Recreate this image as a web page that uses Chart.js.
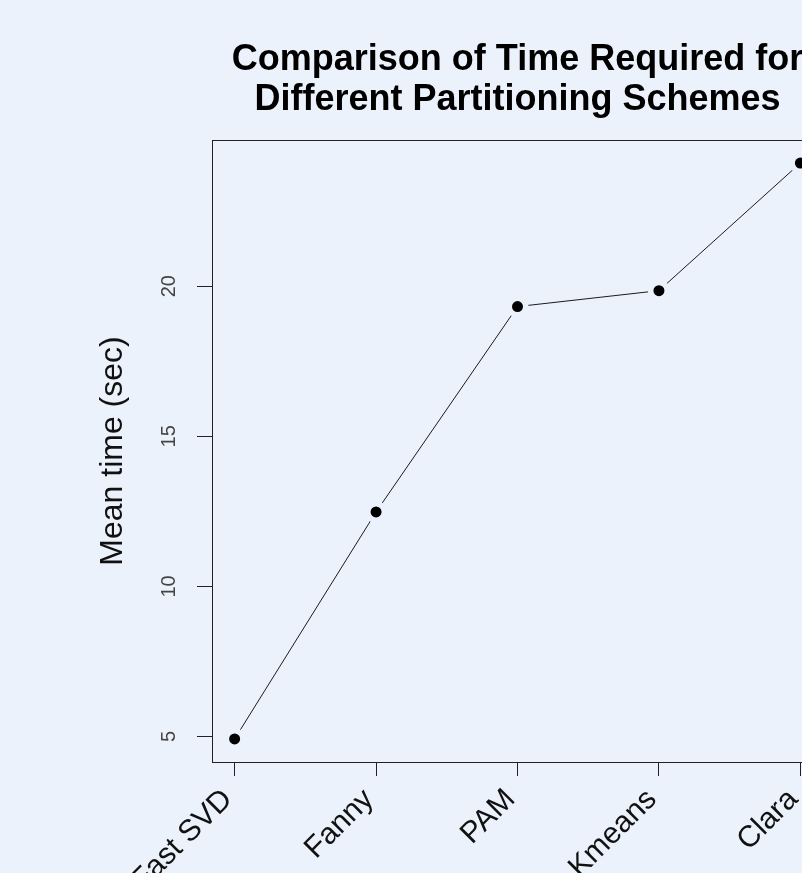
<!DOCTYPE html>
<html>
<head>
<meta charset="utf-8">
<script src="https://cdn.jsdelivr.net/npm/chart.js@4/dist/chart.umd.min.js"></script>
<style>
  html, body { margin: 0; padding: 0; background: #ecf2fc; overflow: hidden; }
  #wrap { width: 802px; height: 873px; overflow: hidden; position: relative; }
  canvas { display: block; }
</style>
</head>
<body>
<div id="wrap"><canvas id="chart" width="1035" height="950"></canvas></div>
<script>
// Partitioning schemes and their mean run time in seconds
const schemes = ['Fast SVD', 'Fanny', 'PAM', 'Kmeans', 'Clara'];
const meanTime = [4.92, 12.48, 19.32, 19.85, 24.1];
const yTickValues = [5, 10, 15, 20];
const titleLines = ['Comparison of Time Required for', 'Different Partitioning Schemes'];
const yCaption = 'Mean time (sec)';

const BG = '#ecf2fc';
const INK = '#111111';
const FONT = '"Liberation Sans", Arial, sans-serif';

// R-style axis limits: data range widened by 4% on both sides
const xLo = 1, xHi = schemes.length;
const xPad = 0.04 * (xHi - xLo);
const yLo = Math.min(...meanTime), yHi = Math.max(...meanTime);
const yPad = 0.04 * (yHi - yLo);

const points = meanTime.map((v, i) => ({ x: i + 1, y: v }));

// Frame around the plotting region
const boxPlugin = {
  id: 'plotBox',
  afterDraw(chart) {
    const { ctx, chartArea: a } = chart;
    ctx.save();
    ctx.strokeStyle = '#222';
    ctx.lineWidth = 1;
    ctx.strokeRect(Math.round(a.left) + 0.5, Math.round(a.top) + 0.5,
                   Math.round(a.right - a.left), Math.round(a.bottom - a.top));
    ctx.restore();
  }
};

// Two-line heading centred over the plotting region, plus the vertical axis caption
const captionPlugin = {
  id: 'captions',
  afterDraw(chart) {
    const { ctx, chartArea: a } = chart;
    const cx = (a.left + a.right) / 2;
    ctx.save();
    ctx.fillStyle = '#000';
    ctx.textAlign = 'center';
    ctx.textBaseline = 'alphabetic';
    ctx.font = 'bold 36px ' + FONT;
    titleLines.forEach((line, i) => ctx.fillText(line, cx, 70 + i * 40));
    ctx.restore();

    ctx.save();
    ctx.translate(113, (a.top + a.bottom) / 2);
    ctx.rotate(-Math.PI / 2);
    ctx.font = '32px ' + FONT;
    ctx.fillStyle = INK;
    ctx.textAlign = 'center';
    ctx.textBaseline = 'middle';
    ctx.fillText(yCaption, 0, 0);
    ctx.restore();
  }
};

new Chart(document.getElementById('chart'), {
  type: 'line',
  data: {
    datasets: [
      { // connecting line
        data: points, borderColor: '#1a1a1a', borderWidth: 1,
        pointRadius: 0, fill: false, tension: 0, order: 3
      },
      { // clear space around each marker
        data: points, showLine: false, pointRadius: 11,
        pointBackgroundColor: BG, pointBorderWidth: 0, order: 2
      },
      { // markers
        data: points, showLine: false, pointRadius: 5.5,
        pointBackgroundColor: '#000', pointBorderWidth: 0, order: 1
      }
    ]
  },
  options: {
    responsive: false,
    animation: false,
    events: [],
    layout: { padding: { left: 0, top: 140, right: 212, bottom: 0 } },
    plugins: {
      legend: { display: false },
      tooltip: { enabled: false },
      title: { display: false }
    },
    scales: {
      x: {
        type: 'linear',
        min: xLo - xPad,
        max: xHi + xPad,
        afterBuildTicks(scale) { scale.ticks = schemes.map((_, i) => ({ value: i + 1 })); },
        afterFit(scale) { scale.height = 188; },
        grid: { drawOnChartArea: false, drawTicks: true, tickLength: 14, color: '#222', lineWidth: 1 },
        border: { display: true, color: '#222', width: 1 },
        ticks: {
          autoSkip: false,
          minRotation: 45,
          maxRotation: 45,
          padding: 6,
          labelOffset: -7,
          color: INK,
          font: { family: FONT, size: 30 },
          callback: (v) => schemes[v - 1]
        }
      },
      y: {
        type: 'linear',
        min: yLo - yPad,
        max: yHi + yPad,
        afterBuildTicks(scale) { scale.ticks = yTickValues.map(v => ({ value: v })); },
        afterFit(scale) { scale.width = 212; },
        grid: { drawOnChartArea: false, drawTicks: true, tickLength: 15, color: '#222', lineWidth: 1 },
        border: { display: true, color: '#222', width: 1 },
        ticks: {
          minRotation: 90,
          maxRotation: 90,
          crossAlign: 'center',
          padding: 16,
          color: '#444',
          font: { family: FONT, size: 20 }
        }
      }
    }
  },
  plugins: [boxPlugin, captionPlugin]
});
</script>
</body>
</html>
